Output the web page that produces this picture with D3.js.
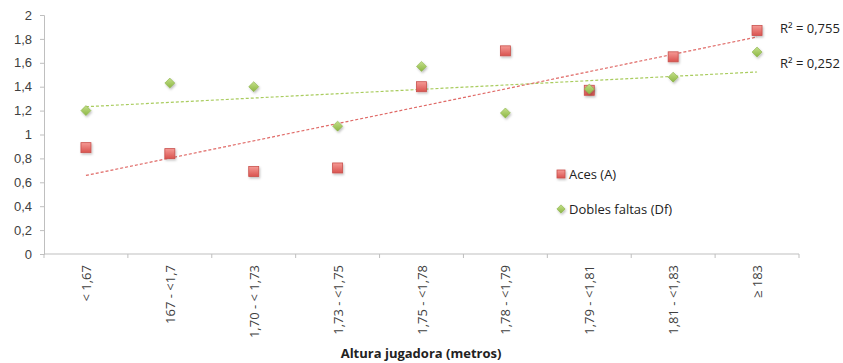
<!DOCTYPE html>
<html>
<head>
<meta charset="utf-8">
<script src="https://cdn.jsdelivr.net/npm/d3@7"></script>
<style>
  html, body { margin: 0; padding: 0; background: #fff; }
  svg { display: block; font-family: "Open Sans", "Noto Sans", sans-serif; }
</style>
</head>
<body>
<svg id="chart" width="843" height="363"></svg>
<script>
// Height groups (x axis)
const categories = ["< 1,67", "167 - <1,7", "1,70 - < 1,73", "1,73 - <1,75", "1,75 - <1,78",
                    "1,78 - <1,79", "1,79 - <1,81", "1,81 - <1,83", "≥ 183"];
// Average per match
const aces = [0.89, 0.84, 0.69, 0.72, 1.40, 1.70, 1.37, 1.65, 1.87];
const doubleFaults = [1.20, 1.43, 1.40, 1.07, 1.57, 1.18, 1.38, 1.48, 1.69];
const yTicks = [0, 0.2, 0.4, 0.6, 0.8, 1, 1.2, 1.4, 1.6, 1.8, 2];
const r2Labels = ["R² = 0,755", "R² = 0,252"];
const seriesNames = ["Aces (A)", "Dobles faltas (Df)"];
const xTitle = "Altura jugadora (metros)";

const svg = d3.select("#chart");
const margin = { left: 44, right: 799, top: 15, bottom: 254 };

const x = d3.scaleBand().domain(categories).range([margin.left, margin.right]).padding(0);
const y = d3.scaleLinear().domain([0, 2]).range([margin.bottom, margin.top]);
const cx = c => x(c) + x.bandwidth() / 2;

const defs = svg.append("defs");
const redGrad = defs.append("linearGradient").attr("id", "redGrad").attr("x1", 0).attr("y1", 0).attr("x2", 0).attr("y2", 1);
redGrad.append("stop").attr("offset", "0%").attr("stop-color", "#f59a95");
redGrad.append("stop").attr("offset", "100%").attr("stop-color", "#d9534f");
const greenGrad = defs.append("linearGradient").attr("id", "greenGrad").attr("x1", 0).attr("y1", 0).attr("x2", 0).attr("y2", 1);
greenGrad.append("stop").attr("offset", "0%").attr("stop-color", "#c4e08a");
greenGrad.append("stop").attr("offset", "100%").attr("stop-color", "#8cb643");
const shadow = defs.append("filter").attr("id", "shadow").attr("x", "-50%").attr("y", "-50%").attr("width", "200%").attr("height", "200%");
shadow.append("feDropShadow").attr("dx", 1).attr("dy", 1.5).attr("stdDeviation", 1).attr("flood-color", "#000").attr("flood-opacity", 0.25);

// Y axis
const yAxis = d3.axisLeft(y).tickValues(yTicks).tickSize(4).tickPadding(8)
  .tickFormat(d => d3.format("~g")(d).replace(".", ","));
const gy = svg.append("g").attr("transform", `translate(${margin.left},0)`).call(yAxis);
gy.select(".domain").attr("stroke", "#bfbfbf");
gy.selectAll(".tick line").attr("stroke", "#bfbfbf");
gy.selectAll("text").attr("fill", "#404040").style("font-size", "13px");

// X axis: line, boundary ticks, rotated labels
const gx = svg.append("g");
gx.append("line").attr("x1", margin.left).attr("x2", margin.right)
  .attr("y1", y(0)).attr("y2", y(0)).attr("stroke", "#bfbfbf");
const bounds = categories.map(c => x(c)).concat([x(categories[categories.length - 1]) + x.bandwidth()]);
gx.selectAll("line.tk").data(bounds).enter().append("line")
  .attr("x1", d => d).attr("x2", d => d).attr("y1", y(0)).attr("y2", y(0) + 4)
  .attr("stroke", "#bfbfbf");
gx.selectAll("text").data(categories).enter().append("text")
  .attr("transform", d => `translate(${cx(d) + 5},${y(0) + 11}) rotate(-90)`)
  .attr("text-anchor", "end")
  .attr("fill", "#404040")
  .style("font-size", "13px")
  .text(d => d);

svg.append("text").attr("x", 421).attr("y", 358).attr("text-anchor", "middle")
  .attr("fill", "#222").style("font-size", "13px").style("font-weight", "bold").text(xTitle);

// Linear trend line over category positions 1..n
function trend(values) {
  const n = values.length;
  const xs = values.map((_, i) => i + 1);
  const mx = d3.mean(xs), my = d3.mean(values);
  const slope = d3.sum(xs.map((xi, i) => (xi - mx) * (values[i] - my))) / d3.sum(xs.map(xi => (xi - mx) ** 2));
  const icpt = my - slope * mx;
  return [[categories[0], icpt + slope * 1], [categories[n - 1], icpt + slope * n]];
}
const line = d3.line().x(d => cx(d[0])).y(d => y(d[1]));
svg.append("path").datum(trend(doubleFaults)).attr("d", line)
  .attr("stroke", "#a9cc5e").attr("stroke-width", 1.2).attr("stroke-dasharray", "3,2").attr("fill", "none");
svg.append("path").datum(trend(aces)).attr("d", line)
  .attr("stroke", "#e06b68").attr("stroke-width", 1.2).attr("stroke-dasharray", "3,2").attr("fill", "none");

// Markers
const sq = 10;
svg.append("g").selectAll("rect").data(aces).enter().append("rect")
  .attr("x", (d, i) => cx(categories[i]) - sq / 2).attr("y", d => y(d) - sq / 2)
  .attr("width", sq).attr("height", sq)
  .attr("fill", "url(#redGrad)").attr("stroke", "#c9504c").attr("stroke-width", 0.8)
  .attr("filter", "url(#shadow)");
const diamond = d3.symbol().type(d3.symbolDiamond2).size(64);
svg.append("g").selectAll("path").data(doubleFaults).enter().append("path")
  .attr("d", diamond)
  .attr("transform", (d, i) => `translate(${cx(categories[i])},${y(d)})`)
  .attr("fill", "url(#greenGrad)").attr("stroke", "#89b14a").attr("stroke-width", 0.6)
  .attr("filter", "url(#shadow)");

// R² labels
svg.append("g").selectAll("text").data(r2Labels).enter().append("text")
  .attr("x", 780).attr("y", (d, i) => 33 + i * 35)
  .attr("fill", "#222").style("font-size", "13px").text(d => d);

// Legend
const lg = svg.append("g");
lg.append("rect").attr("x", 557).attr("y", 170).attr("width", 8).attr("height", 8)
  .attr("fill", "url(#redGrad)").attr("stroke", "#c9504c").attr("stroke-width", 0.8).attr("filter", "url(#shadow)");
lg.append("path").attr("d", d3.symbol().type(d3.symbolDiamond2).size(44))
  .attr("transform", "translate(561,209)")
  .attr("fill", "url(#greenGrad)").attr("stroke", "#89b14a").attr("stroke-width", 0.6).attr("filter", "url(#shadow)");
lg.selectAll("text").data(seriesNames).enter().append("text")
  .attr("x", 569).attr("y", (d, i) => 179 + i * 35)
  .attr("fill", "#222").style("font-size", "13px").text(d => d);
</script>
</body>
</html>
